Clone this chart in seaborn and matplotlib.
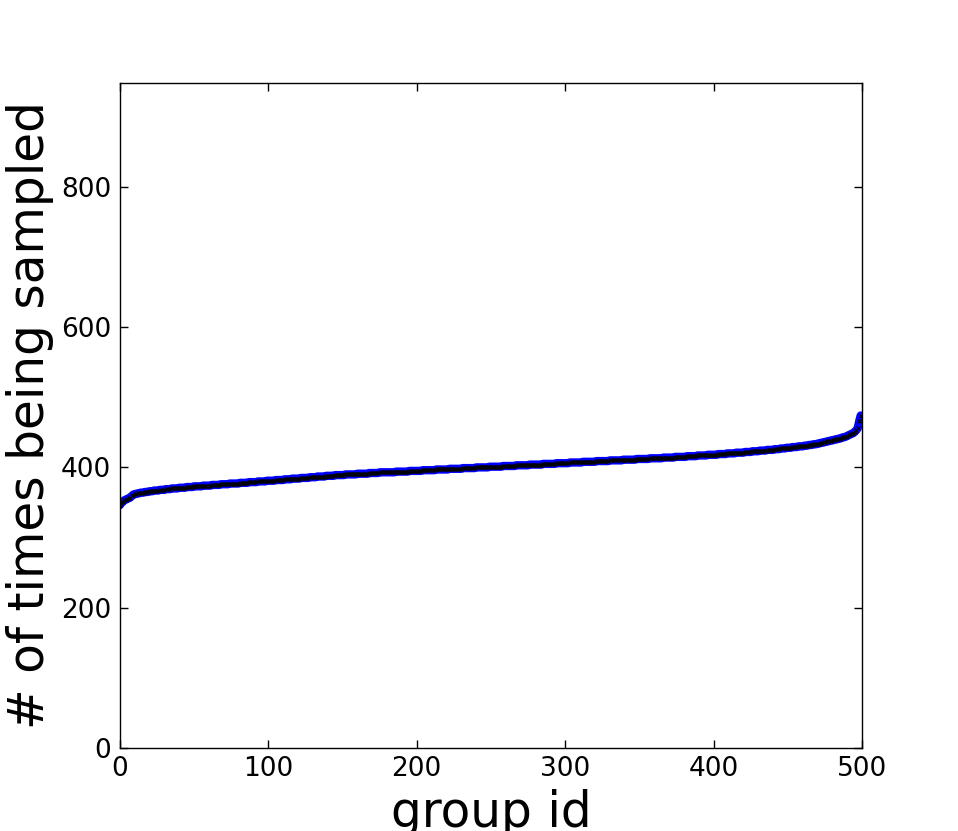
import matplotlib
matplotlib.use("Agg")
import matplotlib.pyplot as plt
import seaborn as sns
import pandas as pd

# sorted number of times each group was sampled
counts = [
    346, 349, 351, 353, 354, 355, 356, 357, 359, 361, 362, 362, 363, 363, 364, 364, 364, 365, 365, 365,
    366, 366, 366, 367, 367, 367, 367, 368, 368, 368, 368, 369, 369, 369, 369, 370, 370, 370, 370, 370,
    371, 371, 371, 371, 371, 372, 372, 372, 372, 372, 373, 373, 373, 373, 373, 373, 374, 374, 374, 374,
    374, 374, 375, 375, 375, 375, 375, 375, 376, 376, 376, 376, 376, 376, 377, 377, 377, 377, 377, 377,
    377, 378, 378, 378, 378, 378, 378, 379, 379, 379, 379, 379, 379, 380, 380, 380, 380, 380, 380, 381,
    381, 381, 381, 381, 381, 382, 382, 382, 382, 382, 382, 383, 383, 383, 383, 383, 384, 384, 384, 384,
    384, 384, 385, 385, 385, 385, 385, 385, 386, 386, 386, 386, 386, 387, 387, 387, 387, 387, 387, 388,
    388, 388, 388, 388, 388, 389, 389, 389, 389, 389, 389, 389, 390, 390, 390, 390, 390, 390, 390, 390,
    391, 391, 391, 391, 391, 391, 391, 391, 392, 392, 392, 392, 392, 392, 392, 393, 393, 393, 393, 393,
    393, 393, 393, 393, 393, 393, 394, 394, 394, 394, 394, 394, 394, 394, 394, 395, 395, 395, 395, 395,
    395, 395, 395, 395, 396, 396, 396, 396, 396, 396, 396, 396, 396, 397, 397, 397, 397, 397, 397, 397,
    397, 397, 398, 398, 398, 398, 398, 398, 398, 398, 398, 399, 399, 399, 399, 399, 399, 399, 399, 399,
    400, 400, 400, 400, 400, 400, 400, 400, 400, 401, 401, 401, 401, 401, 401, 401, 401, 401, 402, 402,
    402, 402, 402, 402, 402, 402, 402, 403, 403, 403, 403, 403, 403, 403, 403, 403, 404, 404, 404, 404,
    404, 404, 404, 404, 404, 405, 405, 405, 405, 405, 405, 405, 405, 405, 406, 406, 406, 406, 406, 406,
    406, 406, 406, 407, 407, 407, 407, 407, 407, 407, 407, 407, 408, 408, 408, 408, 408, 408, 408, 408,
    408, 409, 409, 409, 409, 409, 409, 409, 409, 409, 410, 410, 410, 410, 410, 410, 410, 410, 410, 411,
    411, 411, 411, 411, 411, 411, 411, 411, 412, 412, 412, 412, 412, 412, 412, 412, 412, 413, 413, 413,
    413, 413, 413, 413, 413, 413, 414, 414, 414, 414, 414, 414, 414, 414, 415, 415, 415, 415, 415, 415,
    415, 415, 416, 416, 416, 416, 416, 416, 416, 417, 417, 417, 417, 417, 417, 417, 418, 418, 418, 418,
    418, 418, 418, 419, 419, 419, 419, 419, 419, 420, 420, 420, 420, 420, 420, 421, 421, 421, 421, 421,
    421, 422, 422, 422, 422, 422, 423, 423, 423, 423, 423, 424, 424, 424, 424, 424, 425, 425, 425, 425,
    425, 426, 426, 426, 426, 427, 427, 427, 427, 428, 428, 428, 428, 429, 429, 429, 429, 430, 430, 430,
    430, 431, 431, 431, 432, 432, 432, 433, 433, 433, 434, 434, 435, 435, 436, 436, 437, 437, 438, 438,
    439, 439, 440, 440, 441, 441, 442, 443, 443, 444, 445, 446, 447, 448, 449, 451, 453, 456, 466, 474,
]
group_ids = list(range(len(counts)))

x_ticks = [0, 100, 200, 300, 400, 500]
y_ticks = [0, 200, 400, 600, 800]

df = pd.DataFrame({"group id": group_ids, "count": counts})

sns.set_style("ticks")
plt.rcParams["font.family"] = ["DejaVu Sans"]
plt.rcParams["text.color"] = "black"
plt.rcParams["axes.labelcolor"] = "black"

fig = plt.figure(figsize=(9.58, 8.31), dpi=100)
ax = fig.add_axes([0.125, 0.1, 0.775, 0.8])

sns.lineplot(data=df, x="group id", y="count", ax=ax, color="blue",
             linewidth=6, marker="x", markersize=3.5, markeredgecolor="black",
             markeredgewidth=0.8, errorbar=None, sort=False)

ax.set_xlim(0, 500)
ax.set_ylim(0, 2 * max(counts))
ax.set_xticks(x_ticks)
ax.set_yticks(y_ticks)
ax.tick_params(direction="in", length=6, width=1, labelsize=19,
               top=True, right=True, pad=6, colors="black")
for s in ax.spines.values():
    s.set_visible(True)
    s.set_color("black")
    s.set_linewidth(1)

ax.set_xlabel("group id", fontsize=35, labelpad=5, color="black")
ax.set_ylabel("# of times being sampled", fontsize=35, labelpad=5, color="black")

fig.savefig("out.png", dpi=100, facecolor="white")
